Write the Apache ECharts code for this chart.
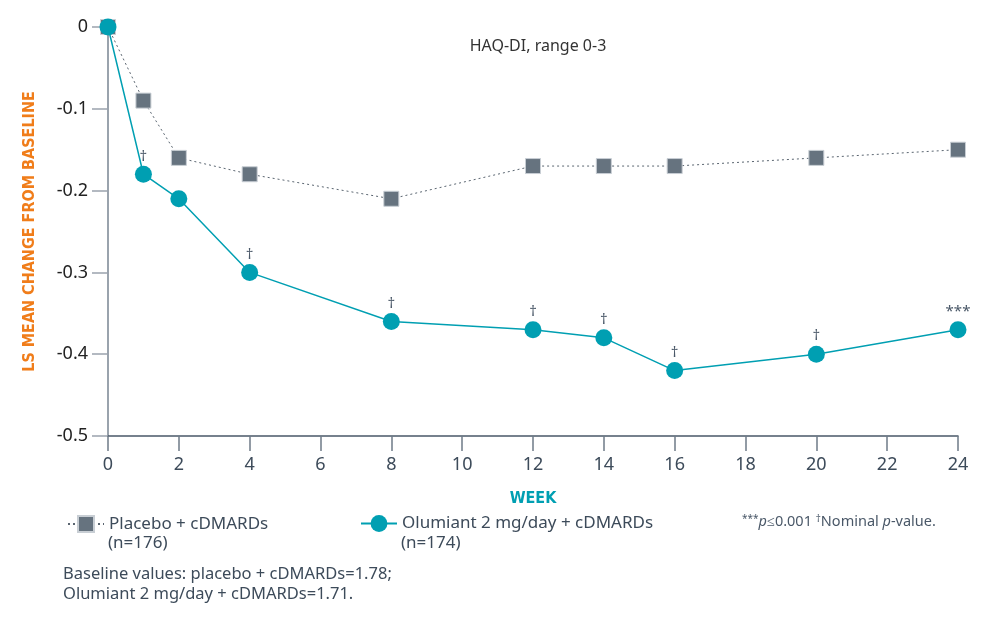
<!DOCTYPE html>
<html>
<head>
<meta charset="utf-8">
<script src="https://cdn.jsdelivr.net/npm/echarts@6/dist/echarts.min.js"></script>
<style>
  html, body { margin: 0; padding: 0; background: #fff; }
  #chart { width: 1000px; height: 626px; }
</style>
</head>
<body>
<div id="chart"></div>
<script>
// Semanas y valores
const weeks = [0, 1, 2, 4, 8, 12, 14, 16, 20, 24];
const placeboValues = [0, -0.09, -0.16, -0.18, -0.21, -0.17, -0.17, -0.17, -0.16, -0.15];
const olumiantValues = [0, -0.18, -0.21, -0.30, -0.36, -0.37, -0.38, -0.42, -0.40, -0.37];
// Marcas de significación sobre la serie Olumiant
const olumiantMarks = ['', '†', '', '†', '†', '†', '†', '†', '†', '***'];

const xTicks = { min: 0, max: 24, interval: 2 };
const yTicks = { min: -0.5, max: 0, interval: 0.1 };

const FONT = 'Noto Sans';
const COND = '"DejaVu Sans Condensed", "DejaVu Sans"';
const TEXT = '#3d4b5a';
const TEAL = '#009fb2';
const GREY = '#66737f';

const chart = echarts.init(document.getElementById('chart'));

const option = {
  backgroundColor: '#ffffff',
  textStyle: { fontFamily: FONT },
  title: {
    text: 'HAQ-DI, range 0-3',
    left: 533,
    top: 33,
    textAlign: 'center',
    textStyle: { fontFamily: FONT, fontSize: 16, fontWeight: 'normal', color: '#333' }
  },
  grid: { left: 108, right: 42, top: 27, bottom: 190 },
  legend: [
    {
      data: ['Placebo + cDMARDs'],
      left: 62, top: 510,
      itemWidth: 36, itemHeight: 20,
      textStyle: { fontFamily: FONT, fontSize: 17, color: TEXT }
    },
    {
      data: ['Olumiant 2 mg/day + cDMARDs'],
      left: 355, top: 510,
      itemWidth: 36, itemHeight: 21,
      textStyle: { fontFamily: FONT, fontSize: 17, color: TEXT }
    }
  ],
  xAxis: {
    type: 'value',
    min: xTicks.min, max: xTicks.max, interval: xTicks.interval,
    name: 'WEEK',
    nameLocation: 'middle',
    nameGap: 55,
    nameTextStyle: { fontFamily: COND, fontSize: 16, fontWeight: 'bold', color: TEAL },
    axisLine: { onZero: false, lineStyle: { color: '#4a5868', width: 1.5 } },
    axisTick: { length: 15, lineStyle: { color: '#6f7b88', width: 1.5 } },
    axisLabel: { fontSize: 18, color: TEXT, margin: 20 },
    splitLine: { show: false }
  },
  yAxis: {
    type: 'value',
    min: yTicks.min, max: yTicks.max, interval: yTicks.interval,
    name: 'LS MEAN CHANGE FROM BASELINE',
    nameLocation: 'middle',
    nameGap: 70,
    nameTextStyle: { fontFamily: COND, fontSize: 16, fontWeight: 'bold', color: '#f07d1a' },
    axisLine: { show: true, onZero: false, lineStyle: { color: '#9aa3ad', width: 2 } },
    axisTick: { show: true, length: 16, lineStyle: { color: '#9aa3ad', width: 1.5 } },
    axisLabel: { fontSize: 18, color: '#222', margin: 20 },
    splitLine: { show: false }
  },
  series: [
    {
      name: 'Placebo + cDMARDs',
      type: 'line',
      symbol: 'rect',
      symbolSize: 15,
      itemStyle: { color: GREY, borderColor: '#c8ced4', borderWidth: 1 },
      lineStyle: { color: '#5a6570', width: 1, type: [2, 3] },
      z: 2,
      data: weeks.map((w, i) => [w, placeboValues[i]])
    },
    {
      name: 'Olumiant 2 mg/day + cDMARDs',
      type: 'line',
      symbol: 'circle',
      symbolSize: 17,
      itemStyle: { color: TEAL },
      lineStyle: { color: TEAL, width: 1.5 },
      z: 3,
      data: weeks.map((w, i) => ({
        value: [w, olumiantValues[i]],
        label: {
          show: olumiantMarks[i] !== '',
          formatter: olumiantMarks[i],
          position: 'top',
          distance: 2,
          fontSize: 15,
          color: '#4a5868'
        }
      }))
    }
  ],
  graphic: [
    {
      type: 'text', left: 108, top: 535,
      style: { text: '(n=176)', font: '17px "Noto Sans"', fill: TEXT }
    },
    {
      type: 'text', left: 401, top: 535,
      style: { text: '(n=174)', font: '17px "Noto Sans"', fill: TEXT }
    },
    {
      type: 'text', left: 63, top: 564,
      style: {
        text: 'Baseline values: placebo + cDMARDs=1.78;\nOlumiant 2 mg/day + cDMARDs=1.71.',
        font: '16.5px "Noto Sans"', lineHeight: 20, fill: TEXT
      }
    },
    {
      type: 'text', left: 742, top: 514,
      style: {
        text: '{s|***}{i|p}{n|≤0.001 }{s|†}{n|Nominal }{i|p}{n|-value.}',
        rich: {
          n: { fontFamily: FONT, fontSize: 14.5, fill: '#4a5868' },
          i: { fontFamily: FONT, fontSize: 14.5, fontStyle: 'italic', fill: '#4a5868' },
          s: { fontFamily: FONT, fontSize: 10, fill: '#4a5868', verticalAlign: 'top' }
        }
      }
    }
  ]
};

chart.setOption(option);
window.addEventListener('resize', () => chart.resize());
</script>
</body>
</html>
